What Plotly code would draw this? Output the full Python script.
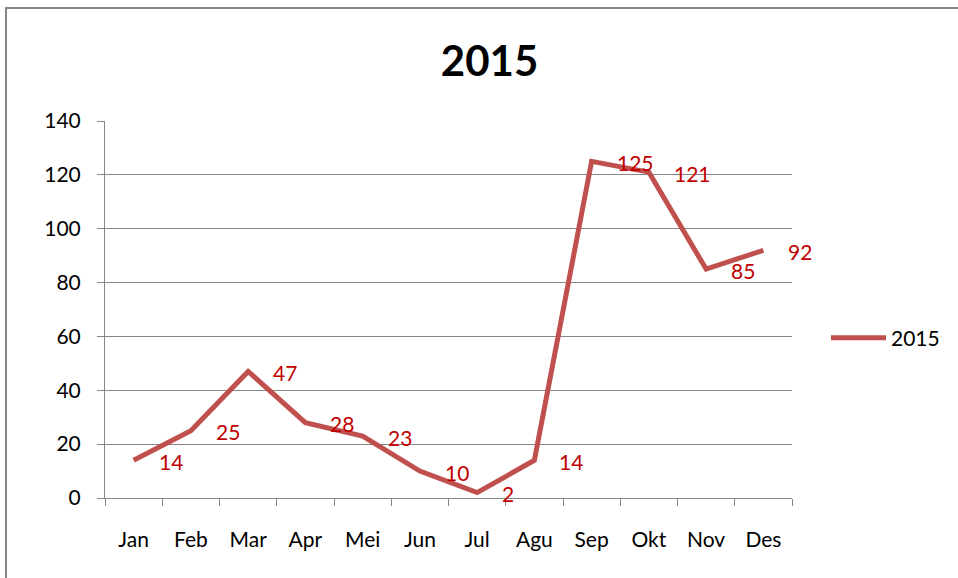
import plotly.graph_objects as go

months = ["Jan", "Feb", "Mar", "Apr", "Mei", "Jun", "Jul", "Agu", "Sep", "Okt", "Nov", "Des"]
values_2015 = [14, 25, 47, 28, 23, 10, 2, 14, 125, 121, 85, 92]
series_name = "2015"
y_ticks = [0, 20, 40, 60, 80, 100, 120, 140]

LINE_COLOR = "#C0504D"
LABEL_COLOR = "#C00000"
GRID = "#868686"
FONT = "Lato"

fig = go.Figure()
fig.add_trace(go.Scatter(
    x=months, y=values_2015, mode="lines", name=series_name,
    line=dict(color=LINE_COLOR, width=5),
))

annotations = []
for m, v in zip(months, values_2015):
    annotations.append(dict(
        x=m, y=v, xref="x", yref="y", text=str(v), showarrow=False,
        xanchor="left", yanchor="middle", xshift=23, yshift=-1,
        font=dict(family=FONT, size=21, color=LABEL_COLOR),
    ))

fig.update_layout(
    width=958, height=578,
    margin=dict(l=105, r=166, t=121, b=80),
    paper_bgcolor="white", plot_bgcolor="white",
    font=dict(family=FONT, size=21, color="black"),
    title=dict(text="<b>2015</b>", x=0.511, xanchor="center", xref="container",
               y=1 - 61 / 578, yanchor="middle",
               font=dict(family=FONT, size=42, color="black")),
    showlegend=True,
    legend=dict(x=(826 - 105) / 687, y=0.424, xanchor="left", yanchor="middle",
                font=dict(family=FONT, size=21, color="black"),
                bgcolor="rgba(0,0,0,0)", itemwidth=55),
    annotations=annotations,
    shapes=[dict(type="rect", xref="paper", yref="paper",
                 x0=(6 - 105) / 687, x1=(975 - 105) / 687,
                 y0=(498 - 590) / 377, y1=(498 - 8) / 377,
                 line=dict(color=GRID, width=2), fillcolor="rgba(0,0,0,0)", layer="below")],
)

fig.update_xaxes(
    type="category", categoryorder="array", categoryarray=months,
    range=[-0.5, 11.5], showgrid=False,
    showline=True, linecolor=GRID, linewidth=1,
    ticks="outside", tickson="boundaries", ticklen=7, tickcolor=GRID, tickwidth=1,
    ticklabelstandoff=23,
    tickfont=dict(family=FONT, size=21, color="black"), zeroline=False,
)
fig.update_yaxes(
    range=[0, 140], tickvals=y_ticks, ticktext=[str(t) for t in y_ticks],
    showgrid=True, gridcolor=GRID, gridwidth=1,
    showline=True, linecolor=GRID, linewidth=1,
    ticks="outside", ticklen=7, tickcolor=GRID, tickwidth=1,
    ticklabelstandoff=12,
    tickfont=dict(family=FONT, size=21, color="black"), zeroline=False,
)

fig.write_html("out.html", config={"displayModeBar": False},
               post_script="document.body.style.margin='0';")
